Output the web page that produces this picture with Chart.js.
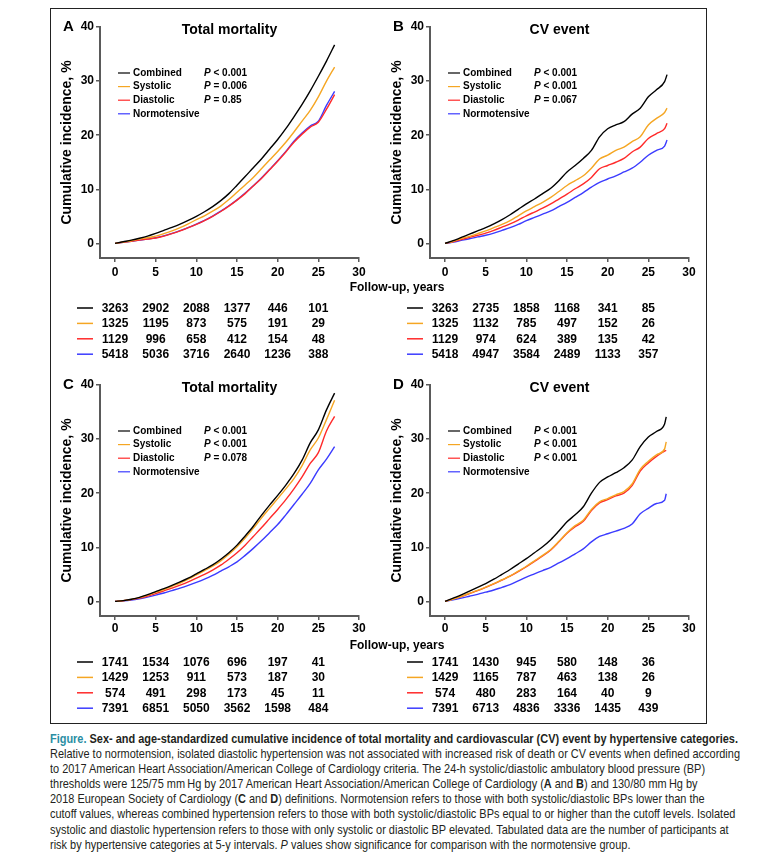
<!DOCTYPE html>
<html>
<head>
<meta charset="utf-8">
<title>Cumulative incidence by hypertensive categories</title>
<script src="https://cdn.jsdelivr.net/npm/chart.js@4.4.1/dist/chart.umd.min.js"></script>
<style>
  body { margin: 0; background: #fff; width: 765px; height: 854px; position: relative; overflow: hidden;
         font-family: "Liberation Sans", Arial, Helvetica, sans-serif; }
  .frame { position: absolute; left: 50px; top: 8px; width: 657px; height: 716px; box-sizing: border-box;
           border: 1.5px solid #222; }
  .panel { position: absolute; }
  .xlab { position: absolute; font-weight: bold; font-size: 12px; line-height: 14px; white-space: nowrap;
          transform: translate(-50%, -50%); color: #000; }
  .caption { position: absolute; left: 50px; top: 731px; font-family: "Liberation Sans", Arial, sans-serif;
             font-size: 13.5px; line-height: 15.1px; color: #231f20; transform-origin: 0 0; }
  .caption div { white-space: nowrap; }
  .caption .fig { color: #2a8ea3; }
</style>
</head>
<body>
<div class="frame"></div>
<canvas id="panel-a" class="panel" width="330" height="358" style="left:50px;top:8px"></canvas>
<canvas id="panel-b" class="panel" width="330" height="358" style="left:380px;top:8px"></canvas>
<canvas id="panel-c" class="panel" width="330" height="358" style="left:50px;top:366px"></canvas>
<canvas id="panel-d" class="panel" width="330" height="358" style="left:380px;top:366px"></canvas>
<div class="xlab" style="left:397px;top:287px">Follow-up, years</div>
<div class="xlab" style="left:397px;top:645px">Follow-up, years</div>

<div class="caption" id="caption">
  <div><b><span class="fig">Figure.</span> Sex- and age-standardized cumulative incidence of total mortality and cardiovascular (CV) event by hypertensive categories.</b></div>
  <div id="caption-ref">Relative to normotension, isolated diastolic hypertension was not associated with increased risk of death or CV events when defined according</div>
  <div>to 2017 American Heart Association/American College of Cardiology criteria. The 24-h systolic/diastolic ambulatory blood pressure (BP)</div>
  <div>thresholds were 125/75 mm&#8201;Hg by 2017 American Heart Association/American College of Cardiology (<b>A</b> and <b>B</b>) and 130/80 mm&#8201;Hg by</div>
  <div>2018 European Society of Cardiology (<b>C</b> and <b>D</b>) definitions. Normotension refers to those with both systolic/diastolic BPs lower than the</div>
  <div>cutoff values, whereas combined hypertension refers to those with both systolic/diastolic BPs equal to or higher than the cutoff levels. Isolated</div>
  <div>systolic and diastolic hypertension refers to those with only systolic or diastolic BP elevated. Tabulated data are the number of participants at</div>
  <div>risk by hypertensive categories at 5-y intervals. <i>P</i> values show significance for comparison with the normotensive group.</div>
</div>

<script>
/* Cumulative incidence curves, 4 panels (A-D), with at-risk tables */

const FONT = '"Liberation Sans", Arial, Helvetica, sans-serif';
const AXIS_COLOR = '#5a5a5a';

const SERIES_NAMES = ['Combined', 'Systolic', 'Diastolic', 'Normotensive'];
const SERIES_COLORS = ['#000000', '#F5A623', '#FF2A2A', '#3B3BFF'];
const X_TICKS = [0, 5, 10, 15, 20, 25, 30];
const Y_TICKS = [0, 10, 20, 30, 40];

// A - total mortality, 2017 ACC/AHA
const yearsA = [0, 1, 2, 3, 4, 5, 6, 7, 8, 9, 10, 11, 12, 13, 14, 15, 16, 17, 18, 19, 20, 21, 22, 23, 24, 25, 26, 27];
const combinedA = [0, 0.3, 0.6, 0.95, 1.35, 1.85, 2.4, 2.95, 3.55, 4.25, 5.0, 5.85, 6.8, 7.9, 9.2, 10.75, 12.35, 14.0, 15.6, 17.4, 19.2, 21.2, 23.4, 25.7, 28.2, 30.9, 33.7, 36.7];
const systolicA = [0, 0.25, 0.5, 0.8, 1.05, 1.35, 1.8, 2.3, 2.9, 3.6, 4.4, 5.1, 5.95, 6.9, 8.1, 9.45, 10.8, 12.2, 13.8, 15.4, 17.0, 18.7, 20.6, 22.6, 24.6, 27.1, 30.0, 32.6];
const diastolicA = [0, 0.2, 0.4, 0.6, 0.8, 1.0, 1.35, 1.8, 2.3, 2.9, 3.5, 4.2, 5.0, 5.9, 6.9, 8.0, 9.2, 10.6, 12.0, 13.6, 15.2, 16.9, 18.7, 20.2, 21.5, 22.4, 24.8, 27.5];
const normoA = [0, 0.2, 0.4, 0.6, 0.8, 1.05, 1.4, 1.85, 2.35, 2.9, 3.55, 4.25, 5.05, 5.95, 6.95, 8.05, 9.3, 10.65, 12.1, 13.65, 15.3, 17.0, 18.9, 20.4, 21.7, 22.6, 25.5, 28.1];
const pValuesA = ['< 0.001', '= 0.006', '= 0.85'];
const atRiskA = [
  [3263, 2902, 2088, 1377, 446, 101],
  [1325, 1195, 873, 575, 191, 29],
  [1129, 996, 658, 412, 154, 48],
  [5418, 5036, 3716, 2640, 1236, 388],
];

// B - CV event, 2017 ACC/AHA
const yearsB = [0, 1, 2, 3, 4, 5, 6, 7, 8, 9, 10, 11, 12, 13, 14, 15, 16, 17, 18, 19, 20, 21, 22, 23, 24, 25, 26, 27, 27.3];
const combinedB = [0, 0.5, 1.1, 1.7, 2.3, 2.9, 3.6, 4.4, 5.3, 6.3, 7.3, 8.2, 9.2, 10.2, 11.6, 13.2, 14.4, 15.7, 17.2, 19.7, 21.2, 21.9, 22.5, 23.9, 25.0, 27.1, 28.4, 29.9, 31.2];
const systolicB = [0, 0.4, 0.9, 1.3, 1.8, 2.3, 2.9, 3.5, 4.2, 5.1, 6.0, 6.8, 7.6, 8.5, 9.6, 10.7, 11.6, 12.5, 13.9, 15.6, 16.3, 17.2, 17.8, 18.8, 19.7, 21.9, 23.1, 24.2, 25.0];
const diastolicB = [0, 0.3, 0.7, 1.1, 1.5, 1.9, 2.4, 3.0, 3.6, 4.3, 5.1, 5.8, 6.5, 7.3, 8.2, 9.1, 10.1, 11.0, 12.2, 13.8, 14.4, 15.0, 15.7, 16.9, 17.8, 19.4, 20.3, 21.2, 22.2];
const normoB = [0, 0.25, 0.55, 0.85, 1.2, 1.5, 1.9, 2.4, 2.9, 3.5, 4.2, 4.8, 5.4, 6.0, 6.8, 7.6, 8.5, 9.4, 10.4, 11.3, 11.9, 12.5, 13.2, 13.9, 15.0, 16.3, 17.2, 18.0, 19.1];
const pValuesB = ['< 0.001', '< 0.001', '= 0.067'];
const atRiskB = [
  [3263, 2735, 1858, 1168, 341, 85],
  [1325, 1132, 785, 497, 152, 26],
  [1129, 974, 624, 389, 135, 42],
  [5418, 4947, 3584, 2489, 1133, 357],
];

// C - total mortality, 2018 ESC
const yearsC = [0, 1, 2, 3, 4, 5, 6, 7, 8, 9, 10, 11, 12, 13, 14, 15, 16, 17, 18, 19, 20, 21, 22, 23, 24, 25, 26, 27];
const combinedC = [0, 0.15, 0.4, 0.75, 1.25, 1.8, 2.35, 2.95, 3.6, 4.3, 5.1, 5.9, 6.75, 7.8, 9.0, 10.4, 12.1, 13.9, 15.9, 17.8, 19.6, 21.5, 23.6, 26.1, 29.3, 31.7, 35.4, 38.5];
const systolicC = [0, 0.15, 0.38, 0.7, 1.15, 1.7, 2.2, 2.8, 3.4, 4.1, 4.9, 5.7, 6.5, 7.5, 8.7, 10.1, 11.7, 13.5, 15.4, 17.2, 19.0, 20.8, 22.7, 25.1, 28.0, 30.2, 33.6, 37.2];
const diastolicC = [0, 0.12, 0.32, 0.6, 1.0, 1.45, 1.95, 2.45, 3.0, 3.6, 4.3, 5.0, 5.8, 6.7, 7.8, 9.0, 10.4, 12.0, 13.6, 15.3, 17.0, 18.8, 20.8, 23.0, 25.5, 27.5, 31.5, 34.2];
const normoC = [0, 0.1, 0.26, 0.5, 0.8, 1.15, 1.55, 2.0, 2.45, 2.95, 3.5, 4.1, 4.8, 5.6, 6.4, 7.3, 8.5, 9.8, 11.2, 12.7, 14.2, 16.0, 17.9, 19.8, 21.8, 24.3, 26.3, 28.6];
const pValuesC = ['< 0.001', '< 0.001', '= 0.078'];
const atRiskC = [
  [1741, 1534, 1076, 696, 197, 41],
  [1429, 1253, 911, 573, 187, 30],
  [574, 491, 298, 173, 45, 11],
  [7391, 6851, 5050, 3562, 1598, 484],
];

// D - CV event, 2018 ESC
const yearsD = [0, 1, 2, 3, 4, 5, 6, 7, 8, 9, 10, 11, 12, 13, 14, 15, 16, 17, 18, 19, 20, 21, 22, 23, 24, 25, 26, 27, 27.2];
const combinedD = [0, 0.6, 1.2, 1.9, 2.6, 3.3, 4.1, 5.0, 5.9, 6.9, 7.9, 9.0, 10.1, 11.4, 13.0, 14.7, 16.0, 17.5, 20.0, 22.0, 23.0, 23.8, 24.7, 26.1, 28.6, 30.4, 31.4, 32.8, 34.1];
const systolicD = [0, 0.45, 0.95, 1.5, 2.05, 2.65, 3.3, 4.0, 4.7, 5.6, 6.5, 7.5, 8.5, 9.6, 11.1, 12.7, 14.0, 15.0, 17.0, 18.4, 19.0, 19.7, 20.3, 21.7, 24.4, 25.9, 27.1, 28.2, 29.5];
const diastolicD = [0, 0.45, 0.9, 1.45, 2.0, 2.6, 3.25, 3.95, 4.65, 5.5, 6.4, 7.4, 8.4, 9.5, 11.0, 12.6, 13.8, 14.8, 16.8, 18.2, 18.8, 19.5, 20.0, 21.4, 24.1, 25.6, 26.8, 27.8, 27.9];
const normoD = [0, 0.3, 0.6, 0.95, 1.3, 1.7, 2.1, 2.6, 3.1, 3.8, 4.5, 5.1, 5.7, 6.3, 7.1, 7.9, 8.8, 9.7, 11.0, 12.0, 12.5, 13.0, 13.5, 14.3, 16.2, 17.2, 18.1, 18.7, 19.9];
const pValuesD = ['< 0.001', '< 0.001', '< 0.001'];
const atRiskD = [
  [1741, 1430, 945, 580, 148, 36],
  [1429, 1165, 787, 463, 138, 26],
  [574, 480, 283, 164, 40, 9],
  [7391, 6713, 4836, 3336, 1435, 439],
];

const PANELS = [
  { canvas: 'panel-a', letter: 'A', title: 'Total mortality', years: yearsA,
    series: [combinedA, systolicA, diastolicA, normoA], p: pValuesA, risk: atRiskA, tableTop: 50, tickPad: 3 },
  { canvas: 'panel-b', letter: 'B', title: 'CV event', years: yearsB,
    series: [combinedB, systolicB, diastolicB, normoB], p: pValuesB, risk: atRiskB, tableTop: 50, tickPad: 3 },
  { canvas: 'panel-c', letter: 'C', title: 'Total mortality', years: yearsC,
    series: [combinedC, systolicC, diastolicC, normoC], p: pValuesC, risk: atRiskC, tableTop: 46, tickPad: 1 },
  { canvas: 'panel-d', letter: 'D', title: 'CV event', years: yearsD,
    series: [combinedD, systolicD, diastolicD, normoD], p: pValuesD, risk: atRiskD, tableTop: 46, tickPad: 1 },
];

// letter, title, in-plot legend with P values, and the at-risk table under the x axis
const panelText = {
  id: 'panelText',
  afterDraw(chart, args, opts) {
    const { ctx, chartArea: area, scales: { x } } = chart;
    ctx.save();
    ctx.fillStyle = '#000';
    ctx.textBaseline = 'middle';

    ctx.textAlign = 'left';
    ctx.font = `bold 15px ${FONT}`;
    ctx.fillText(opts.letter, area.left - 37, area.top);

    ctx.textAlign = 'center';
    ctx.font = `bold 14px ${FONT}`;
    ctx.fillText(opts.title, (area.left + area.right) / 2, area.top + 3);

    SERIES_NAMES.forEach((name, i) => {
      const y = area.top + 46 + i * 13.6;
      ctx.strokeStyle = SERIES_COLORS[i];
      ctx.lineWidth = 1.2;
      ctx.beginPath();
      ctx.moveTo(area.left + 18, y);
      ctx.lineTo(area.left + 30, y);
      ctx.stroke();
      ctx.textAlign = 'left';
      ctx.font = `bold 10px ${FONT}`;
      ctx.fillText(name, area.left + 33, y);
      if (opts.p[i]) {
        const px = area.left + 104;
        ctx.font = `italic bold 10px ${FONT}`;
        ctx.fillText('P', px, y);
        const w = ctx.measureText('P').width;
        ctx.font = `bold 10px ${FONT}`;
        ctx.fillText(' ' + opts.p[i], px + w, y);
      }
    });

    ctx.font = `bold 12px ${FONT}`;
    ctx.textAlign = 'center';
    opts.risk.forEach((row, i) => {
      const y = area.bottom + opts.tableTop + i * 15.4;
      ctx.strokeStyle = SERIES_COLORS[i];
      ctx.lineWidth = 1.5;
      ctx.beginPath();
      ctx.moveTo(area.left - 23, y);
      ctx.lineTo(area.left - 7, y);
      ctx.stroke();
      row.forEach((n, j) => ctx.fillText(String(n), x.getPixelForValue(X_TICKS[j]), y + 0.5));
    });
    ctx.restore();
  }
};

function renderPanel(panel) {
  const datasets = panel.series.map((vals, i) => ({
    label: SERIES_NAMES[i],
    data: panel.years.map((t, k) => ({ x: t, y: vals[k] })),
    borderColor: SERIES_COLORS[i],
    borderWidth: 1.4,
    pointRadius: 0,
    fill: false,
    cubicInterpolationMode: 'monotone',
  }));

  const tickFont = { family: FONT, size: 12, weight: 'bold' };

  new Chart(document.getElementById(panel.canvas), {
    type: 'line',
    data: { datasets },
    options: {
      responsive: false,
      animation: false,
      layout: { padding: { top: 19, right: 21, bottom: 88, left: 0 } },
      plugins: {
        legend: { display: false },
        tooltip: { enabled: false },
        panelText: { letter: panel.letter, title: panel.title, p: panel.p, risk: panel.risk, tableTop: panel.tableTop },
      },
      scales: {
        x: {
          type: 'linear',
          min: -1.85,
          max: 30,
          afterBuildTicks: s => { s.ticks = X_TICKS.map(v => ({ value: v })); },
          afterFit: s => { s.height = 20; },
          grid: { drawOnChartArea: false, drawTicks: true, tickLength: 4, color: AXIS_COLOR, lineWidth: 1.5 },
          border: { display: true, color: AXIS_COLOR, width: 2 },
          ticks: { font: tickFont, color: '#000', padding: panel.tickPad, maxRotation: 0, autoSkip: false },
        },
        y: {
          min: -2.7,
          max: 40,
          afterBuildTicks: s => { s.ticks = Y_TICKS.map(v => ({ value: v })); },
          afterFit: s => { s.width = 50; },
          grid: { drawOnChartArea: false, drawTicks: true, tickLength: 4, color: AXIS_COLOR, lineWidth: 1.5 },
          border: { display: true, color: AXIS_COLOR, width: 2 },
          ticks: { font: tickFont, color: '#000', padding: 2, autoSkip: false },
          title: {
            display: true,
            text: 'Cumulative incidence, %',
            color: '#000',
            font: { family: FONT, size: 14, weight: 'bold' },
            padding: { top: 9, bottom: 0 },
          },
        },
      },
    },
    plugins: [panelText],
  });
}

// squeeze the caption so its second line ends where the reference's does (no narrow font installed)
function fitCaption() {
  const ref = document.getElementById('caption-ref');
  const width = ref.scrollWidth;
  if (width > 0) {
    document.getElementById('caption').style.transform = `scaleX(${690 / width})`;
  }
}

PANELS.forEach(renderPanel);
fitCaption();
</script>
</body>
</html>
